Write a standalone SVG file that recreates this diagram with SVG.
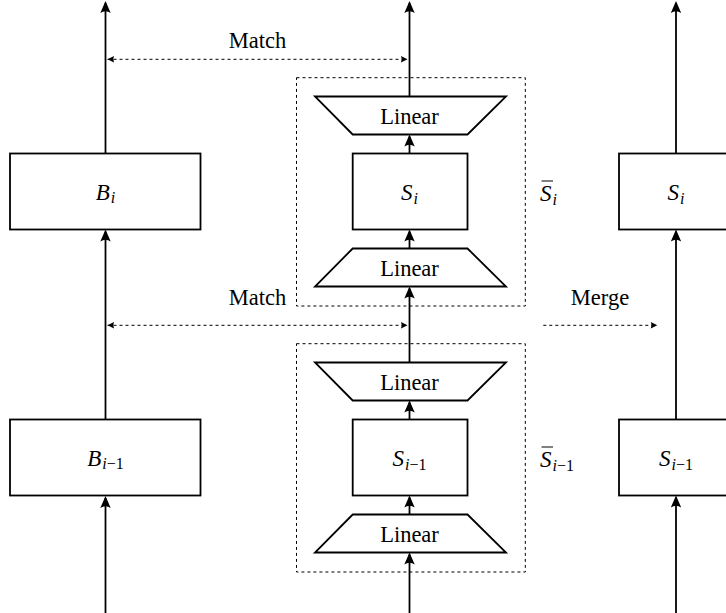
<svg xmlns="http://www.w3.org/2000/svg" width="726" height="613" viewBox="0 0 726 613">
<style>
.box{fill:#fff;stroke:#000;stroke-width:1.8}
.frame{fill:none;stroke:#000;stroke-width:1;stroke-dasharray:3 3}
.flow{stroke:#000;stroke-width:1.8;fill:none;marker-end:url(#ah)}
.dash{stroke:#000;stroke-width:1;stroke-dasharray:3 3;fill:none}
.t{font-family:"Liberation Serif","Times New Roman",serif;font-size:22.5px;fill:#000}
.m{font-family:"Liberation Serif","Times New Roman",serif;font-size:23px;font-style:italic;fill:#000}
.sub{font-size:16px}
.up{font-style:normal}
</style>
<defs>
<marker id="ah" viewBox="0 0 12 12" refX="10" refY="6" markerWidth="12" markerHeight="12" orient="auto" markerUnits="userSpaceOnUse">
<path d="M12,6 L0,0.8 Q3.5,6 0,11.2 Z" fill="#000"/>
</marker>
<marker id="sh" viewBox="0 0 8 8" refX="7" refY="4" markerWidth="8" markerHeight="8" orient="auto" markerUnits="userSpaceOnUse">
<path d="M7,4 L0.5,0.8 Q2,4 0.5,7.2 Z" fill="#000"/>
</marker>
<marker id="shs" viewBox="0 0 8 8" refX="7" refY="4" markerWidth="8" markerHeight="8" orient="auto-start-reverse" markerUnits="userSpaceOnUse">
<path d="M7,4 L0.5,0.8 Q2,4 0.5,7.2 Z" fill="#000"/>
</marker>
</defs>

<g id="connectors">
<line class="flow" x1="105.5" y1="613" x2="105.5" y2="498"/>
<line class="flow" x1="105.5" y1="419.5" x2="105.5" y2="231.5"/>
<line class="flow" x1="105.5" y1="153.5" x2="105.5" y2="3"/>
<line class="flow" x1="409.5" y1="613" x2="409.5" y2="554.5"/>
<line class="flow" x1="409.5" y1="514.5" x2="409.5" y2="497.5"/>
<line class="flow" x1="409.5" y1="419.5" x2="409.5" y2="402.5"/>
<line class="flow" x1="409.5" y1="362.5" x2="409.5" y2="288.5"/>
<line class="flow" x1="409.5" y1="248.5" x2="409.5" y2="231.5"/>
<line class="flow" x1="409.5" y1="153.5" x2="409.5" y2="136.5"/>
<line class="flow" x1="409.5" y1="96.5" x2="409.5" y2="3"/>
<line class="flow" x1="676" y1="613" x2="676" y2="497.5"/>
<line class="flow" x1="676" y1="419.5" x2="676" y2="231.5"/>
<line class="flow" x1="676" y1="153.5" x2="676" y2="3"/>
<line class="dash" x1="107.5" y1="59.3" x2="407.5" y2="59.3" marker-start="url(#shs)" marker-end="url(#sh)"/>
<line class="dash" x1="107.5" y1="325.3" x2="407.5" y2="325.3" marker-start="url(#shs)" marker-end="url(#sh)"/>
<line class="dash" x1="543.3" y1="325.3" x2="657.3" y2="325.3" marker-end="url(#sh)"/>
</g>

<g id="frame-upper"><rect class="frame" x="296.5" y="77.7" width="228.8" height="228.3"/></g>
<g id="frame-lower"><rect class="frame" x="296.5" y="343.7" width="228.8" height="228.3"/></g>

<g id="B_i"><rect class="box" x="10" y="153.5" width="190.5" height="76"/>
<text class="m" x="105.5" y="199.5" text-anchor="middle">B<tspan class="sub" dx="1" dy="3.5">i</tspan></text></g>
<g id="B_im1"><rect class="box" x="10" y="419.5" width="190.5" height="76"/>
<text class="m" x="105.5" y="465.5" text-anchor="middle">B<tspan class="sub" dx="1" dy="3.5">i</tspan><tspan class="sub up">−1</tspan></text></g>

<g id="linear-out-upper"><polygon class="box" points="315,96.5 506,96.5 467.5,134.5 352.7,134.5"/>
<text class="t" x="409.5" y="124.3" text-anchor="middle">Linear</text></g>
<g id="S_i"><rect class="box" x="352.7" y="153.5" width="114.8" height="76"/>
<text class="m" x="409.5" y="200" text-anchor="middle">S<tspan class="sub" dx="1" dy="3.5">i</tspan></text></g>
<g id="linear-in-upper"><polygon class="box" points="352.7,248.5 467.5,248.5 506,286.5 315,286.5"/>
<text class="t" x="409.5" y="276" text-anchor="middle">Linear</text></g>

<g id="linear-out-lower"><polygon class="box" points="315,362.5 506,362.5 467.5,400.5 352.7,400.5"/>
<text class="t" x="409.5" y="390.3" text-anchor="middle">Linear</text></g>
<g id="S_im1"><rect class="box" x="352.7" y="419.5" width="114.8" height="76"/>
<text class="m" x="409.5" y="466" text-anchor="middle">S<tspan class="sub" dx="1" dy="3.5">i</tspan><tspan class="sub up">−1</tspan></text></g>
<g id="linear-in-lower"><polygon class="box" points="352.7,514.5 467.5,514.5 506,552.5 315,552.5"/>
<text class="t" x="409.5" y="542" text-anchor="middle">Linear</text></g>

<g id="Sbar_i"><text class="m" x="540" y="201">S<tspan class="sub" dx="1" dy="3.5">i</tspan></text>
<line x1="541.5" y1="181" x2="553" y2="181" stroke="#000" stroke-width="1"/></g>
<g id="Sbar_im1"><text class="m" x="540" y="467">S<tspan class="sub" dx="1" dy="3.5">i</tspan><tspan class="sub up">−1</tspan></text>
<line x1="541.5" y1="447" x2="553" y2="447" stroke="#000" stroke-width="1"/></g>

<g id="S_i_right"><rect class="box" x="619" y="153.5" width="120" height="76"/>
<text class="m" x="676" y="200" text-anchor="middle">S<tspan class="sub" dx="1" dy="3.5">i</tspan></text></g>
<g id="S_im1_right"><rect class="box" x="619" y="419.5" width="120" height="76"/>
<text class="m" x="676" y="466" text-anchor="middle">S<tspan class="sub" dx="1" dy="3.5">i</tspan><tspan class="sub up">−1</tspan></text></g>

<g id="labels">
<text class="t" x="257.5" y="48.3" text-anchor="middle">Match</text>
<text class="t" x="257.5" y="305" text-anchor="middle">Match</text>
<text class="t" x="600" y="305" text-anchor="middle">Merge</text>
</g>
</svg>
